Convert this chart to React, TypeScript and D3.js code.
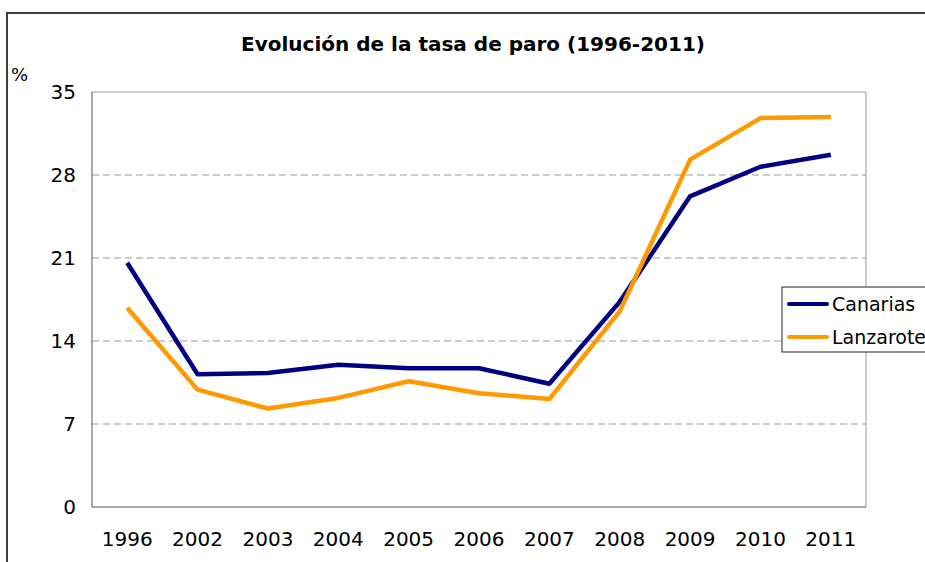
import * as d3 from "d3";
import { useEffect, useRef } from "react";

const years = ["1996", "2002", "2003", "2004", "2005", "2006", "2007", "2008", "2009", "2010", "2011"];
const canarias = [20.6, 11.2, 11.3, 12.0, 11.7, 11.7, 10.4, 17.3, 26.2, 28.7, 29.7];
const lanzarote = [16.8, 9.9, 8.3, 9.2, 10.6, 9.6, 9.1, 16.5, 29.3, 32.8, 32.9];
const yTicks = [0, 7, 14, 21, 28, 35];
const series = [
  { name: "Canarias", color: "#000080", values: canarias },
  { name: "Lanzarote", color: "#FF9900", values: lanzarote },
];

const W = 925;
const H = 562;
const FONT = "'DejaVu Sans', Verdana, sans-serif";

export default function App() {
  const ref = useRef<SVGSVGElement>(null);

  useEffect(() => {
    const svg = d3.select(ref.current);
    svg.selectAll("*").remove();

    const left = 92, right = 866, top = 92, bottom = 507;

    // outer frame (only top and left edge visible)
    svg.append("path")
      .attr("d", `M${W},13H7V${H}`)
      .attr("fill", "none")
      .attr("stroke", "#404040")
      .attr("stroke-width", 2);

    svg.append("text")
      .attr("x", 473)
      .attr("y", 51)
      .attr("text-anchor", "middle")
      .attr("font-family", FONT)
      .attr("font-weight", "bold")
      .attr("font-size", 20)
      .text("Evolución de la tasa de paro (1996-2011)");

    svg.append("text")
      .attr("x", 11)
      .attr("y", 81)
      .attr("font-family", FONT)
      .attr("font-size", 18)
      .text("%");

    var x = d3.scaleBand().domain(years).range([left, right]);
    var y = d3.scaleLinear().domain([0, 35]).range([bottom, top]);

    // grid
    svg.append("g")
      .selectAll("line")
      .data(yTicks.filter((t) => t > 0 && t < 35))
      .join("line")
      .attr("x1", left)
      .attr("x2", right)
      .attr("y1", (d) => y(d))
      .attr("y2", (d) => y(d))
      .attr("stroke", "#999")
      .attr("stroke-dasharray", "7,4");

    // plot frame
    svg.append("path")
      .attr("d", `M${left},${top}H${right}V${bottom}`)
      .attr("fill", "none")
      .attr("stroke", "#999");
    svg.append("path")
      .attr("d", `M${left},${top}V${bottom}H${right}`)
      .attr("fill", "none")
      .attr("stroke", "#555");

    // y labels
    svg.append("g")
      .selectAll("text")
      .data(yTicks)
      .join("text")
      .attr("x", 76)
      .attr("y", (d) => y(d))
      .attr("dy", "0.36em")
      .attr("text-anchor", "end")
      .attr("font-family", FONT)
      .attr("font-size", 20)
      .text((d) => d);

    // x labels
    svg.append("g")
      .selectAll("text")
      .data(years)
      .join("text")
      .attr("x", (d) => x(d)! + x.bandwidth() / 2)
      .attr("y", 546)
      .attr("text-anchor", "middle")
      .attr("font-family", FONT)
      .attr("font-size", 20)
      .text((d) => d);

    const line = d3.line<number>()
      .x((d, i) => x(years[i])! + x.bandwidth() / 2)
      .y((d) => y(d));

    series.forEach((s) => {
      svg.append("path")
        .datum(s.values)
        .attr("fill", "none")
        .attr("stroke", s.color)
        .attr("stroke-width", 4.5)
        .attr("stroke-linejoin", "round")
        .attr("d", line);
    });

    // legend
    const lg = svg.append("g");
    lg.append("rect")
      .attr("x", 782)
      .attr("y", 287)
      .attr("width", 200)
      .attr("height", 65)
      .attr("fill", "#fff")
      .attr("stroke", "#222");
    series.forEach((s, i) => {
      const cy = 304 + i * 33;
      lg.append("line")
        .attr("x1", 789)
        .attr("x2", 827)
        .attr("y1", cy)
        .attr("y2", cy)
        .attr("stroke", s.color)
        .attr("stroke-width", 4)
        .attr("stroke-linecap", "round");
      lg.append("text")
        .attr("x", 832)
        .attr("y", cy + 7)
        .attr("font-family", FONT)
        .attr("font-size", 19)
        .text(s.name);
    });
  }, []);

  return (
    <svg
      ref={ref}
      width={W}
      height={H}
      style={{ position: "absolute", left: 0, top: 0, background: "#fff" }}
    />
  );
}
